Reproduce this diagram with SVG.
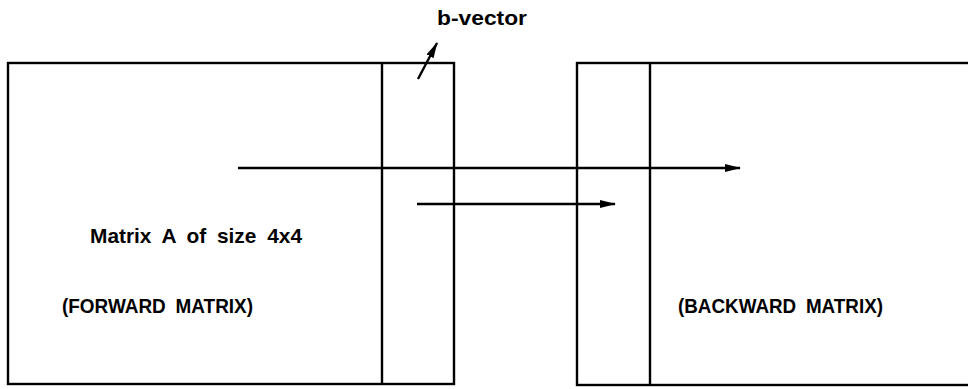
<svg xmlns="http://www.w3.org/2000/svg" width="968" height="389" viewBox="0 0 968 389">
<style>
.box{fill:none;stroke:#000;stroke-width:2.4}
.ln{stroke:#000;stroke-width:2.4;fill:none}
.t{font-family:"Liberation Sans",Arial,sans-serif;font-weight:bold;font-size:21px;fill:#000;word-spacing:5px}
</style>
<defs>
<marker id="ah" markerWidth="16" markerHeight="10" refX="15" refY="5" orient="auto" markerUnits="userSpaceOnUse">
<path d="M0,1 L16,5 L0,9 Z" fill="#000"/>
</marker>
</defs>
<rect width="968" height="389" fill="#fff"/>
<g id="forward-matrix">
<rect class="box" x="8" y="63" width="446" height="321"/>
<line class="ln" x1="382" y1="63" x2="382" y2="384"/>
<text class="t" x="90" y="243" textLength="212" lengthAdjust="spacingAndGlyphs">Matrix A of size 4x4</text>
<text class="t" x="62" y="313" textLength="191" lengthAdjust="spacingAndGlyphs">(FORWARD MATRIX)</text>
</g>
<g id="backward-matrix">
<rect class="box" x="577" y="63" width="400" height="322"/>
<line class="ln" x1="650" y1="63" x2="650" y2="385"/>
<text class="t" x="678" y="313" textLength="205" lengthAdjust="spacingAndGlyphs">(BACKWARD MATRIX)</text>
</g>
<g id="b-vector-label">
<text class="t" x="437" y="25" textLength="90" lengthAdjust="spacingAndGlyphs">b-vector</text>
</g>
<g id="connectors">
<line class="ln" x1="238" y1="168" x2="740" y2="168" marker-end="url(#ah)"/>
<line class="ln" x1="417" y1="204" x2="615" y2="204" marker-end="url(#ah)"/>
<line class="ln" x1="418" y1="79" x2="437" y2="43" marker-end="url(#ah)"/>
</g>
</svg>
